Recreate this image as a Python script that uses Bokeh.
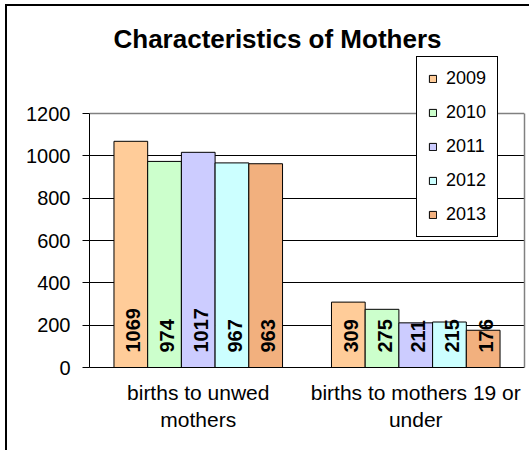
import numpy as np
from bokeh.plotting import figure
from bokeh.models import (ColumnDataSource, FactorRange, Legend, LegendItem,
                          LabelSet, FixedTicker, Grid, LinearAxis, InlineStyleSheet)
from bokeh.transform import dodge
from bokeh.embed import file_html
from bokeh.resources import INLINE
from bokeh.core.properties import value

# ---- data ----
categories = ["births to unwed\nmothers", "births to mothers 19 or\nunder"]
years = ["2009", "2010", "2011", "2012", "2013"]
v2009 = [1069, 309]
v2010 = [974, 275]
v2011 = [1017, 211]
v2012 = [967, 215]
v2013 = [963, 176]
series = [v2009, v2010, v2011, v2012, v2013]
colors = ["#FFCC99", "#CCFFCC", "#CCCCFF", "#CCFFFF", "#F2B07E"]
y_ticks = [0, 200, 400, 600, 800, 1000, 1200]
title_text = "Characteristics of Mothers"

FONT = "Liberation Sans"
Y_AXIS_MAX = 1200
Y_VIEW_MAX = 1484  # extra room above the plot area for the legend

data = {"cat": categories}
for yr, vals in zip(years, series):
    data["y" + yr] = vals
    data["t" + yr] = [str(v) for v in vals]
src = ColumnDataSource(data)

border_css = InlineStyleSheet(css=""":host {
  margin-left: 5px; margin-top: 4px;
  border-left: 2px solid black; border-top: 2px solid black;
}""")

p = figure(x_range=FactorRange(*categories, range_padding=0),
           y_range=(0, Y_VIEW_MAX),
           width=524, height=446, output_backend="svg", toolbar_location=None,
           min_border_left=82, min_border_right=7, min_border_top=47,
           min_border_bottom=85, background_fill_color="white",
           border_fill_color="white", stylesheets=[border_css])

p.title.text = title_text
p.title.text_font = FONT
p.title.text_font_size = "26px"
p.title.text_font_style = "bold"
p.title.text_color = "black"
p.title.align = "left"
p.title.offset = 24
p.title.standoff = 0

bw = 0.155
offsets = [-2 * bw, -bw, 0, bw, 2 * bw]
items = []
for yr, col, off in zip(years, colors, offsets):
    r = p.vbar(x=dodge("cat", off, range=p.x_range), top="y" + yr, width=bw,
               source=src, fill_color=col, line_color="black", line_width=1)
    items.append(LegendItem(label=yr, renderers=[r]))
    lbl = LabelSet(x=dodge("cat", off + 0.012, range=p.x_range), y=0, text="t" + yr,
                   source=src, angle=np.pi / 2, text_align="left",
                   text_baseline="middle", y_offset=15, text_font_size="20px",
                   text_font_style="bold", text_font=value(FONT), text_color="black")
    p.add_layout(lbl)

legend = Legend(items=items, location=(327, 130), orientation="vertical",
                glyph_width=9, glyph_height=9, label_text_font_size="18px",
                label_text_font=FONT, label_text_color="black", label_height=21,
                spacing=13, padding=11, margin=0, border_line_color="black",
                border_line_width=1, border_line_alpha=1, label_standoff=9,
                background_fill_color="white", background_fill_alpha=1)
p.add_layout(legend)

# axes
p.yaxis.ticker = FixedTicker(ticks=y_ticks)
p.yaxis.bounds = (0, Y_AXIS_MAX)
p.yaxis.major_tick_out = 7
p.yaxis.major_tick_in = 0
p.yaxis.minor_tick_out = 0
p.yaxis.minor_tick_in = 0
p.yaxis.axis_line_color = "black"
p.yaxis.major_tick_line_color = "black"
p.yaxis.major_label_text_font = FONT
p.yaxis.major_label_text_font_size = "20px"
p.yaxis.major_label_text_color = "black"
p.yaxis.major_label_standoff = 12

p.xaxis.major_tick_line_color = None
p.xaxis.minor_tick_line_color = None
p.xaxis.axis_line_color = "black"
p.xaxis.major_label_text_font = FONT
p.xaxis.major_label_text_font_size = "21px"
p.xaxis.major_label_text_color = "black"
p.xaxis.major_label_standoff = 7

# right border of the plot area (gray)
right_axis = LinearAxis(bounds=(0, Y_AXIS_MAX), axis_line_color="#808080",
                        axis_line_width=1.5, major_tick_line_color=None,
                        minor_tick_line_color=None, major_label_text_font_size="0px",
                        ticker=FixedTicker(ticks=[]))
p.add_layout(right_axis, "right")

p.xgrid.visible = False
p.ygrid.ticker = FixedTicker(ticks=y_ticks[1:-1])
p.ygrid.grid_line_color = "black"
p.ygrid.grid_line_width = 1
# top border of the plot area (gray)
top_grid = Grid(dimension=1, ticker=FixedTicker(ticks=[Y_AXIS_MAX]),
                grid_line_color="#808080", grid_line_width=1.5)
p.add_layout(top_grid)
p.outline_line_color = None

open("out.html", "w").write(file_html(p, INLINE))
